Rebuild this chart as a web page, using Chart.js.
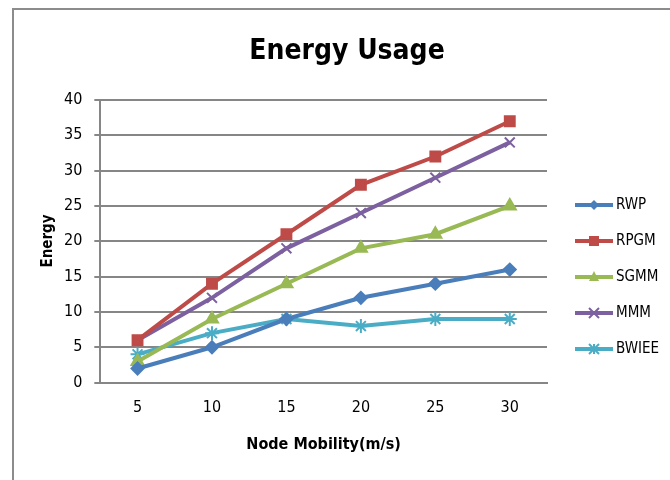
<!DOCTYPE html>
<html>
<head>
<meta charset="utf-8">
<script src="https://cdn.jsdelivr.net/npm/chart.js@4.4.1/dist/chart.umd.min.js"></script>
<style>
    html, body { margin: 0; padding: 0; background: #fff; overflow: hidden; }
    #wrap { position: relative; width: 670px; height: 480px; }
    #frame {
        position: absolute; left: 12px; top: 8px; width: 700px; height: 500px;
        border-left: 2px solid #8c8c8c; border-top: 2px solid #8c8c8c;
        pointer-events: none;
    }
    canvas { position: absolute; left: 0; top: 0; }
</style>
</head>
<body>
<div id="wrap">
    <canvas id="chart" width="670" height="480"></canvas>
    <div id="frame"></div>
</div>
<script>
// Data
const mobility = ['5', '10', '15', '20', '25', '30'];
const rwp = [2, 5, 9, 12, 14, 16];
const rpgm = [6, 14, 21, 28, 32, 37];
const sgmm = [3, 9, 14, 19, 21, 25];
const mmm = [6, 12, 19, 24, 29, 34];
const bwiee = [4, 7, 9, 8, 9, 9];
const seriesNames = ['RWP', 'RPGM', 'SGMM', 'MMM', 'BWIEE'];
const chartTitle = 'Energy Usage';
const yTitle = 'Energy';

const FONT = "'Liberation Sans Narrow', 'DejaVu Sans Condensed', sans-serif";
const GRID = '#868686';

// Series styles
const styles = [
    { color: '#4a7ebb', point: 'rectRot', radius: 6 },
    { color: '#be4b48', point: 'rect', radius: 7 },
    { color: '#98b954', point: 'triangle', radius: 7 },
    { color: '#7d60a0', point: 'crossRot', radius: 7 },
    { color: '#4bacc6', point: 'star', radius: 7 }
];

const seriesData = [rwp, rpgm, sgmm, mmm, bwiee];

const datasets = seriesNames.map((name, i) => ({
    label: name,
    data: seriesData[i],
    borderColor: styles[i].color,
    backgroundColor: styles[i].color,
    borderWidth: 4,
    pointStyle: styles[i].point,
    pointRadius: styles[i].radius,
    pointBorderWidth: 2,
    pointBorderColor: styles[i].color,
    pointBackgroundColor: styles[i].color,
    tension: 0
}));

// small marker for the legend, drawn by hand
function legendMarker(ctx, style, x, y, color) {
    const r = 5;
    ctx.fillStyle = color;
    ctx.strokeStyle = color;
    ctx.lineWidth = 2;
    ctx.beginPath();
    if (style === 'rectRot') {
        ctx.moveTo(x, y - r); ctx.lineTo(x + r, y); ctx.lineTo(x, y + r); ctx.lineTo(x - r, y);
        ctx.closePath(); ctx.fill();
    } else if (style === 'rect') {
        ctx.rect(x - r, y - r, 2 * r, 2 * r); ctx.fill();
    } else if (style === 'triangle') {
        ctx.moveTo(x, y - r - 1); ctx.lineTo(x + r, y + r - 1); ctx.lineTo(x - r, y + r - 1);
        ctx.closePath(); ctx.fill();
    } else if (style === 'crossRot') {
        ctx.moveTo(x - r, y - r); ctx.lineTo(x + r, y + r);
        ctx.moveTo(x + r, y - r); ctx.lineTo(x - r, y + r); ctx.stroke();
    } else {
        ctx.moveTo(x - r, y - r); ctx.lineTo(x + r, y + r);
        ctx.moveTo(x + r, y - r); ctx.lineTo(x - r, y + r);
        ctx.moveTo(x, y - r); ctx.lineTo(x, y + r); ctx.stroke();
    }
}

// Titles and legend drawn by hand so they sit where the original has them
const decorations = {
    id: 'decorations',
    afterDraw(chart) {
        const ctx = chart.ctx;
        ctx.save();
        ctx.fillStyle = '#000';
        ctx.font = 'bold 28px ' + FONT;
        ctx.textAlign = 'center';
        ctx.textBaseline = 'middle';
        ctx.fillText(chartTitle, 347, 52);

        ctx.save();
        ctx.translate(48, 241);
        ctx.rotate(-Math.PI / 2);
        ctx.font = 'bold 15px ' + FONT;
        ctx.fillText(yTitle, 0, 0);
        ctx.restore();

        const x0 = 575, x1 = 613, startY = 205, gap = 36;
        datasets.forEach((ds, i) => {
            const y = startY + i * gap;
            ctx.strokeStyle = ds.borderColor;
            ctx.lineWidth = 4;
            ctx.beginPath();
            ctx.moveTo(x0, y);
            ctx.lineTo(x1, y);
            ctx.stroke();
            legendMarker(ctx, ds.pointStyle, (x0 + x1) / 2, y, ds.borderColor);
            ctx.fillStyle = '#000';
            ctx.font = '15px ' + FONT;
            ctx.textBaseline = 'middle';
            ctx.textAlign = 'left';
            ctx.fillText(ds.label, x1 + 3, y);
        });
        ctx.restore();
    }
};

new Chart(document.getElementById('chart').getContext('2d'), {
    type: 'line',
    data: { labels: mobility, datasets: datasets },
    plugins: [decorations],
    options: {
        responsive: false,
        animation: false,
        layout: { padding: { left: 52, right: 123, top: 100, bottom: 26 } },
        plugins: {
            legend: { display: false },
            tooltip: { enabled: false },
            title: { display: false }
        },
        scales: {
            x: {
                offset: true,
                grid: { display: false, drawTicks: false },
                border: { color: GRID, width: 2 },
                ticks: { color: '#000', font: { family: FONT, size: 16 }, padding: 16 },
                title: {
                    display: true,
                    text: 'Node Mobility(m/s)',
                    color: '#000',
                    font: { family: FONT, size: 16, weight: 'bold' },
                    padding: { top: 1, bottom: 0 }
                }
            },
            y: {
                min: 0,
                max: 40,
                ticks: { stepSize: 5, color: '#000', font: { family: FONT, size: 16 }, padding: 12 },
                grid: { color: GRID, lineWidth: 2, tickLength: 6 },
                border: { color: GRID, width: 2 }
            }
        }
    }
});
</script>
</body>
</html>
